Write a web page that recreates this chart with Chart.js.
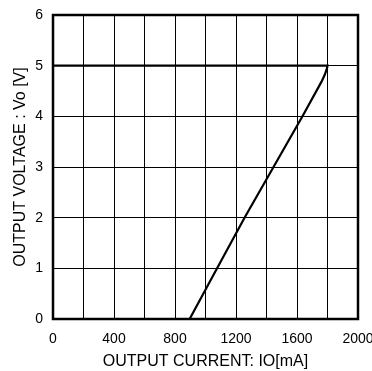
<!DOCTYPE html>
<html>
<head>
<meta charset="utf-8">
<script src="https://cdn.jsdelivr.net/npm/chart.js@4/dist/chart.umd.min.js"></script>
<style>
html,body{margin:0;padding:0;background:#fff;}
#wrap{width:372px;height:371px;}
</style>
</head>
<body>
<div id="wrap"><canvas id="c" width="372" height="371"></canvas></div>
<script>
const currentMA = [0, 1800, 1797, 1782, 1760, 1636, 1446, 1256, 1076, 896];
const voltageV  = [5, 5, 4.95, 4.82, 4.68, 4, 3, 2, 1, 0];
const xTickLabels = [0, 400, 800, 1200, 1600, 2000];
const yTickLabels = [0, 1, 2, 3, 4, 5, 6];
const xTitle = 'OUTPUT CURRENT: IO[mA]';
const yTitle = 'OUTPUT VOLTAGE : Vo [V]';

const points = currentMA.map((x, i) => ({x: x, y: voltageV[i]}));

const framePlugin = {
  id: 'frame',
  afterDraw(chart) {
    const {ctx, chartArea: a} = chart;
    ctx.save();
    ctx.strokeStyle = '#000';
    ctx.lineWidth = 2.5;
    ctx.strokeRect(a.left, a.top, a.right - a.left, a.bottom - a.top);
    ctx.restore();
  }
};

new Chart(document.getElementById('c'), {
  type: 'scatter',
  data: {
    datasets: [{
      data: points,
      showLine: true,
      borderColor: '#000',
      borderWidth: 2.2,
      pointRadius: 0,
      tension: 0,
      fill: false
    }]
  },
  options: {
    responsive: false,
    animation: false,
    layout: {padding: {top: 15, right: 14, left: 0, bottom: 0}},
    plugins: {legend: {display: false}, tooltip: {enabled: false}},
    scales: {
      x: {
        type: 'linear',
        min: 0, max: 2000,
        ticks: {
          stepSize: 200,
          color: '#000',
          padding: 12,
          maxRotation: 0,
          autoSkip: false,
          font: {family: 'Liberation Sans', size: 14},
          callback: v => xTickLabels.includes(v) ? String(v) : ''
        },
        grid: {color: '#000', lineWidth: 1, drawTicks: false},
        border: {display: false},
        title: {display: true, text: xTitle, color: '#000',
                font: {family: 'Liberation Sans', size: 16}, padding: {top: 0, bottom: 0}},
        afterFit(s) { s.height = 52; s.paddingLeft = 0; s.paddingRight = 0; }
      },
      y: {
        type: 'linear',
        min: 0, max: 6,
        ticks: {
          stepSize: 1,
          color: '#000',
          padding: 10,
          font: {family: 'Liberation Sans', size: 14},
          callback: v => yTickLabels.includes(v) ? String(v) : ''
        },
        grid: {color: '#000', lineWidth: 1, drawTicks: false},
        border: {display: false},
        title: {display: true, text: yTitle, color: '#000',
                font: {family: 'Liberation Sans', size: 16}, padding: {top: 11, bottom: 0}},
        afterFit(s) { s.width = 53; s.paddingTop = 0; s.paddingBottom = 0; }
      }
    }
  },
  plugins: [framePlugin]
});
</script>
</body>
</html>
